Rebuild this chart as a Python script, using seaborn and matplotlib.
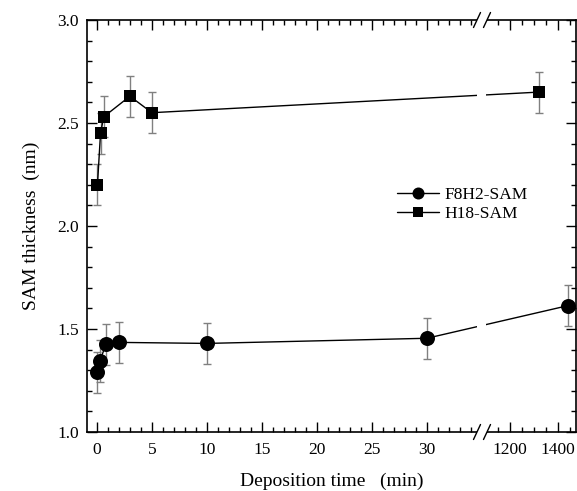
import numpy as np
import pandas as pd
import matplotlib
matplotlib.use("Agg")
import matplotlib.pyplot as plt
from matplotlib.patches import Rectangle
import seaborn as sns

# ---------------- data ----------------
f8_time = [0.05, 0.27, 0.82, 2.0, 10.0, 30.0, 1440.0]
f8_thick = [1.29, 1.345, 1.425, 1.435, 1.43, 1.455, 1.613]
f8_err = [0.10, 0.10, 0.10, 0.10, 0.10, 0.10, 0.10]

h18_time = [0.05, 0.33, 0.62, 3.0, 5.0, 1320.0]
h18_thick = [2.20, 2.45, 2.53, 2.63, 2.55, 2.65]
h18_err = [0.10, 0.10, 0.10, 0.10, 0.10, 0.10]

series_names = ["F8H2-SAM", "H18-SAM"]
xtick_major = [0, 5, 10, 15, 20, 25, 30, 1200, 1400]
xtick_labels = ["0", "5", "10", "15", "20", "25", "30", "1200", "1400"]
ytick_major = [1.0, 1.5, 2.0, 2.5, 3.0]

# ---------------- style ----------------
sns.set_theme(style="ticks")
plt.rcParams["font.family"] = ["Liberation Serif", "DejaVu Serif"]
plt.rcParams["axes.linewidth"] = 1.2

df = pd.DataFrame({
    "time": f8_time + h18_time,
    "thick": f8_thick + h18_thick,
    "err": f8_err + h18_err,
    "sam": [series_names[0]] * len(f8_time) + [series_names[1]] * len(h18_time),
})

# broken x axis: piecewise linear scale
_xp = np.array([-100.0, 35.0, 1083.0, 5000.0])
_fp = np.array([-100.0, 35.0, 35.001, 35.001 + (5000.0 - 1083.0) * 0.02182])


def fwd(x):
    return np.interp(x, _xp, _fp)


def inv(t):
    return np.interp(t, _fp, _xp)


fig = plt.figure(figsize=(5.77, 4.91), dpi=100)
ax = fig.add_axes([87 / 577, 1 - 432 / 491, 488.5 / 577, 412 / 491])

ax.set_xscale("function", functions=(fwd, inv))

sub_f8 = df[df["sam"] == series_names[0]]
sub_h18 = df[df["sam"] == series_names[1]]

ax.errorbar(sub_f8["time"], sub_f8["thick"], yerr=sub_f8["err"], fmt="none",
            ecolor="#808080", elinewidth=1.0, capsize=2.9, capthick=1.0, zorder=1.5)
ax.errorbar(sub_h18["time"], sub_h18["thick"], yerr=sub_h18["err"], fmt="none",
            ecolor="#808080", elinewidth=1.0, capsize=2.9, capthick=1.0, zorder=1.5)

sns.lineplot(data=sub_f8, x="time", y="thick", marker="o", markersize=10.8,
             color="black", linewidth=1.0, markeredgewidth=0, label=series_names[0],
             ax=ax, zorder=2, sort=True)
sns.lineplot(data=sub_h18, x="time", y="thick", marker="s", markersize=8.6,
             color="black", linewidth=1.0, markeredgewidth=0, label=series_names[1],
             ax=ax, zorder=2, sort=True)

ax.set_xlim(-0.9, 1473)
ax.set_ylim(1.0, 3.0)

ax.set_xticks(xtick_major)
ax.set_xticklabels(xtick_labels)
minor_x = [m for m in range(0, 35) if m % 5 != 0] + [1150, 1250, 1300, 1350, 1450]
ax.set_xticks(minor_x, minor=True)
ax.set_yticks(ytick_major)
ax.set_yticklabels([f"{v:.1f}" for v in ytick_major])
ax.set_yticks(np.arange(1.0, 3.0001, 0.1), minor=True)

ax.tick_params(which="both", direction="in", top=True, right=True, color="black", width=1.0)
ax.tick_params(which="major", length=7, labelsize=12.5, pad=6)
ax.tick_params(which="minor", length=3.5)
ax.tick_params(axis="x", which="major", pad=7)
for t in ax.get_xticklabels() + ax.get_yticklabels():
    t.set_color("black")
for s in ax.spines.values():
    s.set_color("black")
    s.set_visible(True)

ax.set_xlabel("Deposition time   (min)", fontsize=14, labelpad=11, color="black")
ax.set_ylabel("SAM thickness  (nm)", fontsize=14, labelpad=12, color="black")

# gap in data lines at the break
ax.axvspan(34.55, 1100, ymin=0.0, ymax=1.0, color="white", zorder=2.2, lw=0)

# break marks on top and bottom spines
xa1, xa2 = (477 - 87) / 488.5, (487 - 87) / 488.5
dx, dy = 3.5 / 488.5, 7.5 / 412
for yb in (0.0, 1.0):
    ax.add_patch(Rectangle((xa1, yb - 0.008), xa2 - xa1, 0.016, transform=ax.transAxes,
                           facecolor="white", edgecolor="none", clip_on=False, zorder=3))
    for xc in (xa1, xa2):
        ax.plot([xc - dx, xc + dx], [yb - dy, yb + dy], transform=ax.transAxes,
                color="black", lw=1.0, clip_on=False, zorder=4)

leg = ax.legend(loc="upper left", bbox_to_anchor=(397 / 577, 1 - 187 / 491),
                bbox_transform=fig.transFigure, frameon=False, fontsize=12.5,
                handlelength=2.4, handletextpad=0.35, borderpad=0, borderaxespad=0,
                labelspacing=0.15, markerscale=0.8)
for t in leg.get_texts():
    t.set_color("black")

fig.savefig("out.png", dpi=100)
